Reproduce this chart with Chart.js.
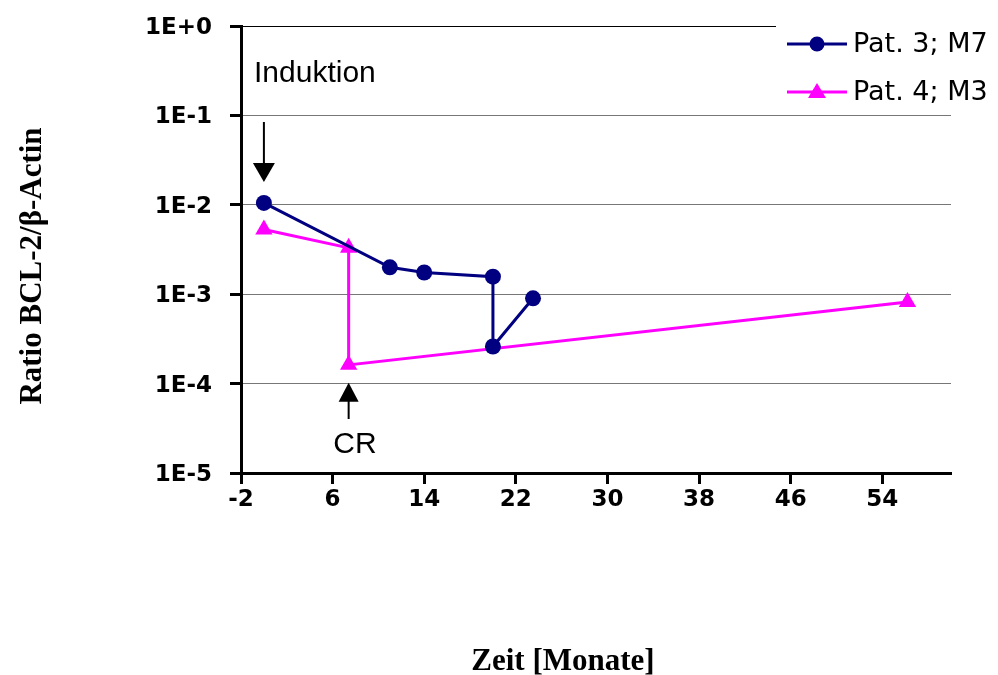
<!DOCTYPE html>
<html>
<head>
<meta charset="utf-8">
<title>BCL-2 Verlauf</title>
<script src="https://cdn.jsdelivr.net/npm/chart.js@4/dist/chart.umd.min.js"></script>
<style>
  html, body { margin: 0; padding: 0; background: #fff; }
</style>
</head>
<body>
<canvas id="bclChart" width="998" height="675"></canvas>
<script>
// Pat. 3 (M7): months / ratio
const p3Months = [0, 11, 14, 20, 20, 23.5];
const p3Ratio  = [1.05e-2, 2.0e-3, 1.75e-3, 1.57e-3, 2.6e-4, 9.0e-4];
// Pat. 4 (M3)
const p4Months = [0, 7.4, 7.4, 56.2];
const p4Ratio  = [5.3e-3, 3.3e-3, 1.62e-4, 8.2e-4];

const seriesNames = ["Pat. 3; M7", "Pat. 4; M3"];
const xTicks = [-2, 6, 14, 22, 30, 38, 46, 54];
const yTicks = [1e-5, 1e-4, 1e-3, 1e-2, 1e-1, 1];
const yTickLabels = ["1E-5", "1E-4", "1E-3", "1E-2", "1E-1", "1E+0"];

const NAVY = "#000080";
const MAGENTA = "#ff00ff";
const tickFont = { family: "DejaVu Sans", weight: "bold", size: 23 };

function toPoints(xs, ys) {
    return xs.map((x, i) => ({ x: x, y: ys[i] }));
}

// arrows, notes, legend and axis titles drawn on top
const overlay = {
    id: "overlay",
    afterDraw(chart) {
        const ctx = chart.ctx;
        const xs = chart.scales.x, ys = chart.scales.y;
        ctx.save();

        // legend
        ctx.fillStyle = "#fff";
        ctx.fillRect(776, 12, 222, 98);
        chart.data.datasets.forEach((ds, i) => {
            const y = 44 + i * 48;
            ctx.strokeStyle = ds.borderColor;
            ctx.lineWidth = 3;
            ctx.beginPath();
            ctx.moveTo(787, y);
            ctx.lineTo(847, y);
            ctx.stroke();
            ctx.fillStyle = ds.borderColor;
            ctx.beginPath();
            if (ds.pointStyle === "triangle") {
                ctx.moveTo(817, y - 9);
                ctx.lineTo(826, y + 6);
                ctx.lineTo(808, y + 6);
                ctx.closePath();
            } else {
                ctx.arc(817, y, 7.5, 0, Math.PI * 2);
            }
            ctx.fill();
            ctx.fillStyle = "#000";
            ctx.font = "27px 'DejaVu Sans'";
            ctx.textAlign = "left";
            ctx.textBaseline = "middle";
            ctx.fillText(ds.label, 853, y + 1);
        });

        // Induktion arrow
        ctx.fillStyle = "#000";
        ctx.strokeStyle = "#000";
        ctx.lineWidth = 2;
        const ax = xs.getPixelForValue(p3Months[0]);
        const tipA = ys.getPixelForValue(p3Ratio[0]) - 21;
        ctx.beginPath();
        ctx.moveTo(ax, 122);
        ctx.lineTo(ax, tipA - 16);
        ctx.stroke();
        ctx.beginPath();
        ctx.moveTo(ax - 11, tipA - 19);
        ctx.lineTo(ax + 11, tipA - 19);
        ctx.lineTo(ax, tipA);
        ctx.closePath();
        ctx.fill();
        ctx.font = "30px 'Liberation Sans'";
        ctx.textAlign = "left";
        ctx.textBaseline = "alphabetic";
        ctx.fillText("Induktion", 254, 82);

        // CR arrow
        const cx = xs.getPixelForValue(p4Months[2]);
        const tipC = ys.getPixelForValue(p4Ratio[2]) + 18;
        ctx.beginPath();
        ctx.moveTo(cx, tipC + 16);
        ctx.lineTo(cx, 419);
        ctx.stroke();
        ctx.beginPath();
        ctx.moveTo(cx - 10, tipC + 19);
        ctx.lineTo(cx + 10, tipC + 19);
        ctx.lineTo(cx, tipC);
        ctx.closePath();
        ctx.fill();
        ctx.textAlign = "center";
        ctx.fillText("CR", 355, 453);

        // axis titles
        ctx.font = "bold 31px 'Liberation Serif'";
        ctx.textAlign = "center";
        ctx.textBaseline = "alphabetic";
        ctx.fillText("Zeit [Monate]", 563, 670);
        ctx.translate(41, 266);
        ctx.rotate(-Math.PI / 2);
        ctx.fillText("Ratio BCL-2/\u03B2-Actin", 0, 0);

        ctx.restore();
    }
};

new Chart("bclChart", {
    type: "line",
    data: {
        datasets: [
            {
                label: seriesNames[0],
                data: toPoints(p3Months, p3Ratio),
                borderColor: NAVY,
                backgroundColor: NAVY,
                borderWidth: 3,
                pointStyle: "circle",
                pointRadius: 8,
                pointBorderWidth: 0,
                tension: 0
            },
            {
                label: seriesNames[1],
                data: toPoints(p4Months, p4Ratio),
                borderColor: MAGENTA,
                backgroundColor: MAGENTA,
                borderWidth: 3,
                pointStyle: "triangle",
                pointRadius: 10,
                pointBorderWidth: 0,
                tension: 0
            }
        ]
    },
    options: {
        responsive: false,
        animation: false,
        devicePixelRatio: 1,
        layout: { padding: { left: 0, top: 26, right: 47, bottom: 0 } },
        plugins: {
            legend: { display: false },
            tooltip: { enabled: false }
        },
        scales: {
            x: {
                type: "linear",
                min: -2,
                max: 60,
                afterBuildTicks: (scale) => { scale.ticks = xTicks.map(v => ({ value: v })); },
                afterFit: (scale) => { scale.height = 202; },
                border: { display: true, color: "#000", width: 3 },
                grid: {
                    drawOnChartArea: false,
                    drawTicks: true,
                    tickLength: 11,
                    tickWidth: 3,
                    tickColor: "#000"
                },
                ticks: {
                    autoSkip: false,
                    maxRotation: 0,
                    padding: 2,
                    color: "#000",
                    font: tickFont
                }
            },
            y: {
                type: "logarithmic",
                min: 1e-5,
                max: 1,
                afterBuildTicks: (scale) => { scale.ticks = yTicks.map(v => ({ value: v })); },
                afterFit: (scale) => {
                    scale.width = 241;
                    // label padding shouldn't push the plot top down
                    scale.paddingTop = 14;
                    scale.paddingBottom = 14;
                },
                border: { display: true, color: "#000", width: 3 },
                grid: {
                    color: (c) => (c.tick && c.tick.value === 1 ? "#000" : "#777"),
                    lineWidth: 1,
                    drawTicks: true,
                    tickLength: 11,
                    tickWidth: 3,
                    tickColor: "#000"
                },
                ticks: {
                    padding: 18,
                    labelOffset: 2,
                    color: "#000",
                    font: tickFont,
                    callback: (v) => yTickLabels[yTicks.indexOf(v)]
                }
            }
        }
    },
    plugins: [overlay]
});
</script>
</body>
</html>
